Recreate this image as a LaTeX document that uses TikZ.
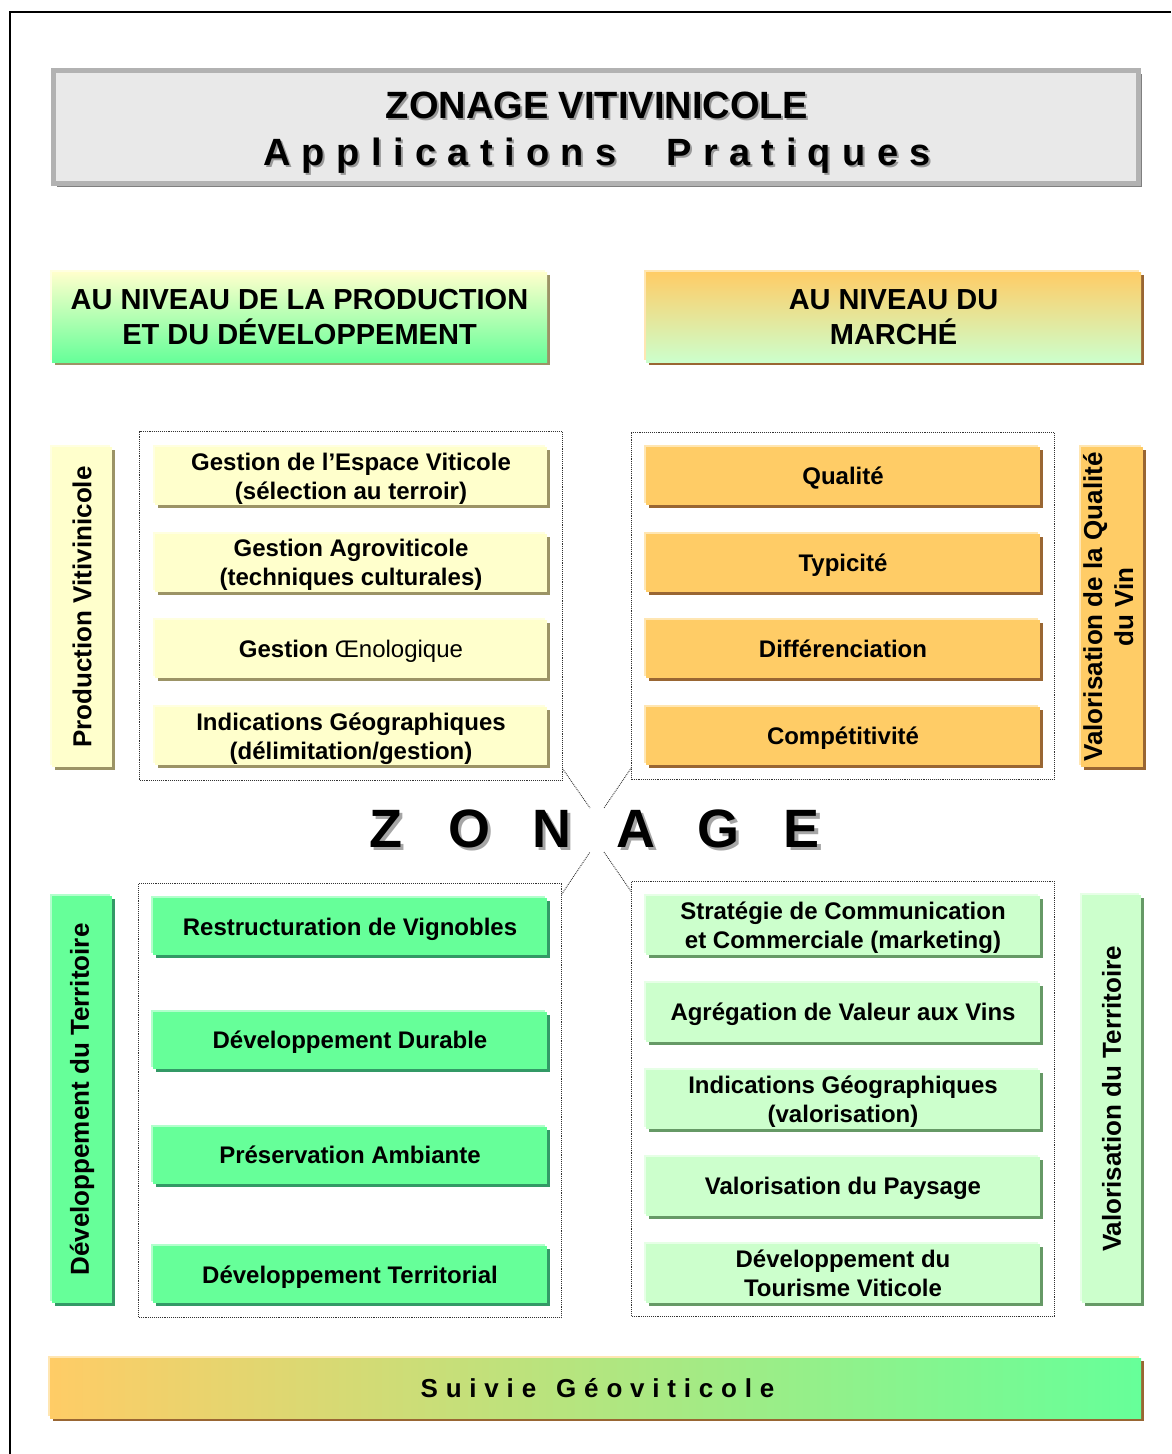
\documentclass[tikz,border=0pt]{standalone}
\usepackage{fontspec}
\setmainfont{Liberation Sans}
\usetikzlibrary{positioning, shadows, fit}

\definecolor{titlegray}{HTML}{E9E9E9}
\definecolor{titleborder}{HTML}{B2B2B2}
\definecolor{titleshade}{HTML}{7F7F7F}
\definecolor{creme}{HTML}{FFFFCC}
\definecolor{cremeshade}{HTML}{9C9466}
\definecolor{orangefill}{HTML}{FFCC66}
\definecolor{orangeshade}{HTML}{996633}
\definecolor{greenfill}{HTML}{66FF99}
\definecolor{greenshade}{HTML}{339966}
\definecolor{mintfill}{HTML}{CCFFCC}
\definecolor{mintshade}{HTML}{669966}

\begin{document}
\begin{tikzpicture}[x=1pt, y=-1pt, node distance=86.7pt, on grid,
    every node/.style={inner sep=0pt, align=center}]
  \tikzstyle{item}=[rectangle, minimum width=392pt, minimum height=58pt, font=\fontsize{24}{29}\selectfont\bfseries,
    text height=20pt, text depth=3pt]
  \tikzstyle{twolines}=[text height=49pt]
  \tikzstyle{sidebox}=[rectangle, minimum width=60pt, font=\fontsize{26}{31}\selectfont\bfseries]
  \tikzstyle{header}=[rectangle, minimum width=495pt, minimum height=90pt, font=\fontsize{29}{35}\selectfont\bfseries]
  \tikzstyle{yellowbox}=[fill=creme, general shadow={shadow xshift=-2pt, shadow yshift=2pt, fill=creme!60!white},
    drop shadow={shadow xshift=3pt, shadow yshift=-3pt, fill=cremeshade, opacity=1}]
  \tikzstyle{orangebox}=[fill=orangefill, general shadow={shadow xshift=-2pt, shadow yshift=2pt, fill=orangefill!50!white},
    drop shadow={shadow xshift=3pt, shadow yshift=-3pt, fill=orangeshade, opacity=1}]
  \tikzstyle{greenbox}=[fill=greenfill, general shadow={shadow xshift=-2pt, shadow yshift=2pt, fill=greenfill!50!white},
    drop shadow={shadow xshift=3pt, shadow yshift=-3pt, fill=greenshade, opacity=1}]
  \tikzstyle{mintbox}=[fill=mintfill, general shadow={shadow xshift=-2pt, shadow yshift=2pt, fill=mintfill!50!white},
    drop shadow={shadow xshift=3pt, shadow yshift=-3pt, fill=mintshade, opacity=1}]
  \tikzstyle{dotframe}=[rectangle, draw=black!80, densely dotted, line width=0.9pt]
  \tikzstyle{dotline}=[draw=black!80, densely dotted, line width=0.9pt]
  \tikzstyle{titletext}=[font=\fontsize{38}{47}\selectfont\bfseries]
  \tikzstyle{bigletter}=[font=\fontsize{54}{60}\selectfont\bfseries, text height=39pt, text depth=0pt]

  \useasboundingbox (0,0) rectangle (1171,1454);
  \draw[line width=1.5pt] (1171,12) -- (10,12) -- (10,1454);

  % title
  \node[rectangle, minimum width=1085pt, minimum height=113pt, fill=titlegray, draw=titleborder, line width=5pt,
    general shadow={shadow xshift=-2pt, shadow yshift=2pt, fill=black!12},
    drop shadow={shadow xshift=3pt, shadow yshift=-3pt, fill=titleshade, opacity=1}] (ttl) at (596,127) {};
  \node[titletext, text=black!40] (ttls) at (599,135)
    {ZONAGE VITIVINICOLE\\{\addfontfeature{LetterSpace=30}Applications\hspace{50pt}Pratiques}};
  \node[titletext] (ttlt) at (597,133)
    {ZONAGE VITIVINICOLE\\{\addfontfeature{LetterSpace=30}Applications\hspace{50pt}Pratiques}};

  % headers
  \node[header, top color=creme, bottom color=greenfill,
    general shadow={shadow xshift=-2pt, shadow yshift=2pt, fill=creme!60!white},
    drop shadow={shadow xshift=3pt, shadow yshift=-3pt, fill=cremeshade, opacity=1}] (hprod) at (299.5,317)
    {AU NIVEAU DE LA PRODUCTION\\ET DU DÉVELOPPEMENT};
  \node[header, top color=orangefill, bottom color=mintfill,
    general shadow={shadow xshift=-2pt, shadow yshift=2pt, fill=orangefill!50!white},
    drop shadow={shadow xshift=3pt, shadow yshift=-3pt, fill=orangeshade, opacity=1}] (hmarche) at (893.5,317)
    {AU NIVEAU DU\\MARCHÉ};

  % production
  \node[item, twolines, yellowbox] (g1) at (351,476) {Gestion de l’Espace Viticole\\(sélection au terroir)};
  \node[item, twolines, yellowbox, below=of g1] (g2) {Gestion Agroviticole\\(techniques culturales)};
  \node[item, yellowbox, below=of g2] (g3) {Gestion {\mdseries Œnologique}};
  \node[item, twolines, yellowbox, below=of g3] (g4) {Indications Géographiques\\(délimitation/gestion)};
  \node[sidebox, yellowbox, minimum height=320pt] (prod) at (82,607) {\rotatebox{90}{Production Vitivinicole}};

  % qualite
  \node[item, orangebox, minimum width=394pt] (q1) at (843,476) {Qualité};
  \node[item, orangebox, minimum width=394pt, below=of q1] (q2) {Typicité};
  \node[item, orangebox, minimum width=394pt, below=of q2] (q3) {Différenciation};
  \node[item, orangebox, minimum width=394pt, below=of q3] (q4) {Compétitivité};
  \node[sidebox, orangebox, minimum width=59pt, minimum height=320pt] (qual) at (1111.5,607)
    {\rotatebox{90}{\begin{tabular}{@{}c@{}}Valorisation de la Qualité\\du Vin\end{tabular}}};

  % territoire
  \node[item, greenbox, minimum width=394pt, minimum height=57pt] (r1) at (350,926.5) {Restructuration de Vignobles};
  \node[item, greenbox, minimum width=394pt, minimum height=57pt] (r2) at (350,1040) {Développement Durable};
  \node[item, greenbox, minimum width=394pt, minimum height=57pt] (r3) at (350,1155) {Préservation Ambiante};
  \node[item, greenbox, minimum width=394pt, minimum height=57pt] (r4) at (350,1274.5) {Développement Territorial};
  \node[sidebox, greenbox, minimum height=407pt] (devt) at (82,1099.5) {\rotatebox{90}{Développement du Territoire}};

  % valorisation
  \tikzstyle{mitem}=[item, mintbox, minimum width=394pt, minimum height=59pt]
  \node[mitem, twolines] (m1) at (843,925) {Stratégie de Communication\\et Commerciale (marketing)};
  \node[mitem, below=87pt of m1] (m2) {Agrégation de Valeur aux Vins};
  \node[mitem, twolines, below=87pt of m2] (m3) {Indications Géographiques\\(valorisation)};
  \node[mitem, below=87pt of m3] (m4) {Valorisation du Paysage};
  \node[mitem, twolines, below=87pt of m4] (m5) {Développement du\\Tourisme Viticole};
  \node[sidebox, mintbox, minimum width=59pt, minimum height=408pt] (valt) at (1111.5,1099) {\rotatebox{90}{Valorisation du Territoire}};

  % frames
  \node[dotframe, fit=(g1)(g4), inner sep=15pt] (fa) {};
  \node[dotframe, fit=(q1)(q4), inner sep=14pt] (fb) {};
  \node[dotframe, fit=(r1)(r4), inner sep=14pt] (fc) {};
  \node[dotframe, fit=(m1)(m5), inner sep=14pt] (fd) {};

  % zonage
  \foreach \l [count=\i] in {Z,O,N,A,G,E} {
    \node[bigletter, text=black!35] (zs\i) at (389+83.2*\i-83.2,831) {\l};
    \node[bigletter] (z\i) at (386+83.2*\i-83.2,828) {\l};
  }
  \coordinate (d1) at (590,808);
  \coordinate (d2) at (604,808);
  \coordinate (d3) at (590,852);
  \coordinate (d4) at (604,852);
  \draw[dotline] ([yshift=12pt]fa.south east) -- (d1);
  \draw[dotline] ([yshift=12pt]fb.south west) -- (d2);
  \draw[dotline] ([yshift=-11pt]fc.north east) -- (d3);
  \draw[dotline] ([yshift=-11pt]fd.north west) -- (d4);

  % suivie
  \node[rectangle, minimum width=1091pt, minimum height=60pt, left color=orangefill, right color=greenfill,
    font=\fontsize{26}{31}\selectfont\bfseries,
    general shadow={shadow xshift=-2pt, shadow yshift=2pt, fill=orangefill!50!white},
    drop shadow={shadow xshift=3pt, shadow yshift=-3pt, fill=orangeshade, opacity=1}] (suivi) at (595.5,1388)
    {\hspace{4pt}\addfontfeature{LetterSpace=30}Suivie\hspace{20pt}Géoviticole};
\end{tikzpicture}
\end{document}
